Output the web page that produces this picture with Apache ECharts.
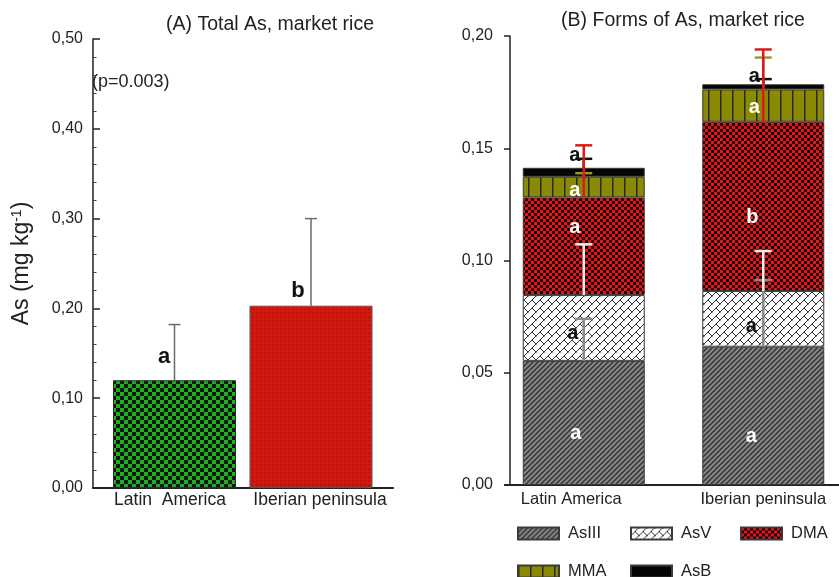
<!DOCTYPE html>
<html>
<head>
<meta charset="utf-8">
<script src="https://cdn.jsdelivr.net/npm/echarts@6/dist/echarts.min.js"></script>
<style>
  html, body { margin: 0; padding: 0; background: #ffffff; }
  #chart { width: 839px; height: 577px; }
</style>
</head>
<body>
<div id="chart"></div>
<script>
// ---- data ----
const regions = ['Latin America', 'Iberian peninsula'];

// (A) total arsenic, mg/kg
const totalAs = [0.120, 0.203];
const totalAsSD = [0.062, 0.097];
const totalLetters = ['a', 'b'];

// (B) arsenic species, mg/kg
const species = ['AsIII', 'AsV', 'DMA', 'MMA', 'AsB'];
const asIII = [0.0553, 0.0616];
const asV = [0.0293, 0.0248];
const dma = [0.0435, 0.0754];
const mma = [0.0092, 0.0144];
const asB = [0.0040, 0.0023];
const sdAsIII = [0.0187, 0.0297];
const sdAsV = [0.0226, 0.0178];
const sdDMA = [0.0232, 0.0322];
const sdMMA = [0.0016, 0.0142];
const sdAsB = [0.0040, 0.0023];
const lettersAsIII = ['a', 'a'];
const lettersAsV = ['a', 'a'];
const lettersDMA = ['a', 'b'];
const lettersMMA = ['a', 'a'];
const lettersAsB = ['a', 'a'];

const ticksA = [0, 0.1, 0.2, 0.3, 0.4, 0.5];
const ticksB = [0, 0.05, 0.1, 0.15, 0.2];

// ---- fill patterns ----
function tile(w, h, draw) {
  const c = document.createElement('canvas');
  c.width = w; c.height = h;
  draw(c.getContext('2d'), w, h);
  return { image: c, repeat: 'repeat' };
}
const greenCheck = tile(8, 8, g => {
  g.fillStyle = '#0d1a0d'; g.fillRect(0, 0, 8, 8);
  g.fillStyle = '#1fae22'; g.fillRect(0, 0, 4, 4); g.fillRect(4, 4, 4, 4);
});
const fineRed = tile(4, 4, g => {
  g.fillStyle = '#d3180f'; g.fillRect(0, 0, 4, 4);
  g.fillStyle = '#bd120b'; g.fillRect(0, 0, 2, 2);
});
const hatchGray = tile(5, 5, g => {
  g.fillStyle = '#8c8c8c'; g.fillRect(0, 0, 5, 5);
  g.strokeStyle = '#3a3a3a'; g.lineWidth = 1.6;
  g.beginPath();
  g.moveTo(-1, 6); g.lineTo(6, -1);
  g.moveTo(-1, 1); g.lineTo(1, -1);
  g.moveTo(4, 6); g.lineTo(6, 4);
  g.stroke();
});
const brickWhite = tile(8, 8, g => {
  g.fillStyle = '#ffffff'; g.fillRect(0, 0, 8, 8);
  g.strokeStyle = '#333333'; g.lineWidth = 1;
  g.beginPath();
  g.moveTo(-1, 9); g.lineTo(9, -1);
  g.moveTo(4, 4); g.lineTo(8, 8);
  g.moveTo(0, 0); g.lineTo(0.5, 0.5);
  g.stroke();
});
const redCheck = tile(6, 6, g => {
  g.fillStyle = '#1a0202'; g.fillRect(0, 0, 6, 6);
  g.fillStyle = '#e8141a'; g.fillRect(0, 0, 3, 3); g.fillRect(3, 3, 3, 3);
});
const oliveBars = tile(12, 4, g => {
  g.fillStyle = '#8a8a05'; g.fillRect(0, 0, 12, 4);
  g.fillStyle = '#2b2b00'; g.fillRect(0, 0, 1.5, 4);
});
const speciesFill = [hatchGray, brickWhite, redCheck, oliveBars, '#050505'];

// ---- helpers ----
const FONT = 'Liberation Sans, Arial, sans-serif';
const comma = v => v.toFixed(2).replace('.', ',');

function errorBar(color, capHalf, width) {
  return function (params, api) {
    const p0 = api.coord([api.value(0), api.value(1)]);
    const p1 = api.coord([api.value(0), api.value(2)]);
    const st = { stroke: color, lineWidth: width };
    return {
      type: 'group',
      children: [
        { type: 'line', z2: 50, shape: { x1: p0[0], y1: p0[1], x2: p1[0], y2: p1[1] }, style: st },
        { type: 'line', z2: 50, shape: { x1: p1[0] - capHalf, y1: p1[1], x2: p1[0] + capHalf, y2: p1[1] }, style: st }
      ]
    };
  };
}

// cumulative tops of the stacked species
const stackVals = [asIII, asV, dma, mma, asB];
const stackSD = [sdAsIII, sdAsV, sdDMA, sdMMA, sdAsB];
const stackLetters = [lettersAsIII, lettersAsV, lettersDMA, lettersMMA, lettersAsB];
const tops = stackVals.map((_, k) =>
  regions.map((__, i) => stackVals.slice(0, k + 1).reduce((s, arr) => s + arr[i], 0)));

// label placement and colour per species (offsets in px, per region)
const letterColor = ['#ffffff', '#111111', '#ffffff', '#ffffff', '#111111'];
const letterOffset = [
  [[-8, 11], [-12, 21]],
  [[-11, 6], [-12, 7.5]],
  [[-9, -19], [-11, 11]],
  [[-9, 3], [-9, 2]],
  [[-9, -17], [-9, -10]]
];
const errColor = ['#8a8a8a', '#ececec', '#e01818', '#9a9a20', '#111111'];
const errOrder = [0, 1, 3, 4, 2];

const axisText = { color: '#222', fontFamily: FONT, fontSize: 16 };

const option = {
  animation: false,
  grid: [
    { left: 93, top: 39, width: 300, height: 449 },
    { left: 174.5, top: 39, width: 136.5, height: 449 },
    { left: 505, top: 36, width: 334, height: 449 },
    { left: 583.75, top: 36, width: 179.5, height: 449 }
  ],
  xAxis: [
    { gridIndex: 0, type: 'category', data: regions,
      axisLine: { lineStyle: { color: '#222', width: 2 } },
      axisTick: { show: false }, axisLabel: { show: false } },
    { gridIndex: 1, type: 'category', data: regions, boundaryGap: false,
      axisLine: { show: false }, axisTick: { show: false },
      axisLabel: {
        interval: 0, margin: 3, color: '#222', fontFamily: FONT, fontSize: 17.5,
        formatter: (v, i) => (i === 0 ? '{la|Latin  America}' : '{ib|' + v + '}'),
        rich: {
          la: { fontFamily: FONT, fontSize: 17.5, color: '#222', padding: [0, 9, 0, 0] },
          ib: { fontFamily: FONT, fontSize: 17.5, color: '#222', padding: [0, 0, 0, 18] }
        }
      } },
    { gridIndex: 2, type: 'category', data: regions,
      axisLine: { lineStyle: { color: '#222', width: 2 } },
      axisTick: { show: false }, axisLabel: { show: false } },
    { gridIndex: 3, type: 'category', data: regions, boundaryGap: false,
      axisLine: { show: false }, axisTick: { show: false },
      axisLabel: {
        interval: 0, margin: 6, color: '#222', fontFamily: FONT, fontSize: 16.5,
        formatter: (v, i) => (i === 0 ? '{la|' + v + '}' : '{ib|' + v + '}'),
        rich: {
          la: { fontFamily: FONT, fontSize: 16.5, color: '#222', padding: [0, 25, 0, 0] },
          ib: { fontFamily: FONT, fontSize: 16.5, color: '#222' }
        }
      } }
  ],
  yAxis: [
    { gridIndex: 0, type: 'value', min: ticksA[0], max: ticksA[ticksA.length - 1], interval: ticksA[1] - ticksA[0],
      axisLine: { show: true, lineStyle: { color: '#222', width: 1.5 } },
      axisTick: { show: true, inside: true, length: 7, lineStyle: { color: '#222', width: 1.5 } },
      minorTick: { show: true, splitNumber: 5, length: 3.5, lineStyle: { color: '#444', width: 1 } },
      splitLine: { show: false },
      axisLabel: Object.assign({ margin: 10, formatter: comma }, axisText),
      name: '{n|As (mg kg}{s|-1}{n|)}', nameLocation: 'middle', nameGap: 59,
      nameTextStyle: {
        rich: {
          n: { fontFamily: FONT, fontSize: 23, color: '#222' },
          s: { fontFamily: FONT, fontSize: 14, color: '#222', verticalAlign: 'top', padding: [0, 0, 10, 0] }
        }
      } },
    { gridIndex: 1, type: 'value', min: ticksA[0], max: ticksA[ticksA.length - 1], show: false },
    { gridIndex: 2, type: 'value', min: ticksB[0], max: ticksB[ticksB.length - 1], interval: ticksB[1] - ticksB[0],
      offset: -5,
      axisLine: { show: true, lineStyle: { color: '#222', width: 1.5 } },
      axisTick: { show: true, inside: false, length: 6, lineStyle: { color: '#222', width: 1.5 } },
      splitLine: { show: false },
      axisLabel: Object.assign({ margin: 17, formatter: comma }, axisText) },
    { gridIndex: 3, type: 'value', min: ticksB[0], max: ticksB[ticksB.length - 1], show: false }
  ],
  legend: species.map((name, k) => ({
    data: [name],
    left: [517, 630, 740, 517, 630][k],
    top: [525, 525, 525, 563, 563][k],
    padding: 0,
    itemWidth: 41, itemHeight: 12,
    icon: 'rect',
    selectedMode: false,
    textStyle: { fontFamily: FONT, fontSize: 16.5, color: '#222', padding: [0, 0, 0, 4] }
  })),
  graphic: [
    { type: 'text', x: 270, y: 25, style: { text: '(A) Total As, market rice', font: '19.5px ' + FONT, fill: '#222', align: 'center', verticalAlign: 'middle' } },
    { type: 'text', x: 683, y: 21, style: { text: '(B) Forms of As, market rice', font: '19.5px ' + FONT, fill: '#222', align: 'center', verticalAlign: 'middle' } },
    { type: 'text', x: 92, y: 82, style: { text: '(p=0.003)', font: '18px ' + FONT, fill: '#222', align: 'left', verticalAlign: 'middle' } }
  ],
  series: [
    {
      name: 'Total As', type: 'bar', xAxisIndex: 1, yAxisIndex: 1, barWidth: 123,
      data: totalAs.map((v, i) => ({
        value: v,
        itemStyle: [
          { color: greenCheck, borderColor: '#2a2a2a', borderWidth: 1 },
          { color: fineRed, borderColor: '#555', borderWidth: 1 }
        ][i],
        label: { offset: [[-10.5, -8], [-13, 0]][i] }
      })),
      label: {
        show: true, position: 'top', distance: 4,
        formatter: p => totalLetters[p.dataIndex],
        fontFamily: FONT, fontSize: 22, fontWeight: 'bold', color: '#111'
      }
    },
    {
      name: 'Total As SD', type: 'custom', xAxisIndex: 1, yAxisIndex: 1, z: 10,
      renderItem: errorBar('#6a6a6a', 6, 1.5),
      encode: { x: 0, y: [1, 2] },
      data: totalAs.map((v, i) => [i, v, v + totalAsSD[i]])
    },
    ...species.map((name, k) => ({
      name: name, type: 'bar', stack: 'forms', xAxisIndex: 3, yAxisIndex: 3, barWidth: 122,
      itemStyle: { color: speciesFill[k], borderColor: '#3a3a3a', borderWidth: 1 },
      data: stackVals[k].map((v, i) => ({ value: v, label: { offset: letterOffset[k][i] } })),
      label: {
        show: true, position: 'inside',
        formatter: p => stackLetters[k][p.dataIndex],
        fontFamily: FONT, fontSize: 20, fontWeight: 'bold', color: letterColor[k]
      }
    })),
    ...errOrder.map((k, j) => ({
      name: species[k] + ' SD', type: 'custom', xAxisIndex: 3, yAxisIndex: 3, z: 10 + j,
      renderItem: errorBar(errColor[k], 8.5, 2.5),
      encode: { x: 0, y: [1, 2] },
      data: regions.map((r, i) => [i, tops[k][i], tops[k][i] + stackSD[k][i]])
    }))
  ]
};

const chart = echarts.init(document.getElementById('chart'), null, { renderer: 'canvas' });
chart.setOption(option);
</script>
</body>
</html>
